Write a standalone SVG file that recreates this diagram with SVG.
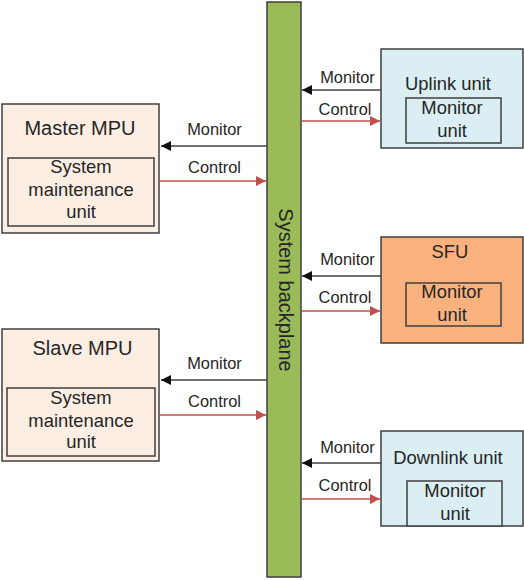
<svg xmlns="http://www.w3.org/2000/svg" width="524" height="580" viewBox="0 0 524 580">
<style>
.box{stroke:#3f3f3f;stroke-width:1.5}
.mpu{fill:#fdeee4}
.blue{fill:#daeef3}
.sfu{fill:#f9b27d}
.t{font-family:"Liberation Sans",Arial,sans-serif;font-size:18.4px;fill:#262626;text-anchor:middle}
.h{font-size:20px}
.l{font-family:"Liberation Sans",Arial,sans-serif;font-size:16.4px;fill:#262626;text-anchor:middle}
.mon{stroke:#404040;stroke-width:1.5;fill:none;marker-end:url(#ab)}
.ctl{stroke:#c0504d;stroke-width:1.5;fill:none;marker-end:url(#ar)}
</style>
<defs>
<marker id="ab" viewBox="0 0 10 10" refX="10" refY="5" markerWidth="10" markerHeight="10" markerUnits="userSpaceOnUse" orient="auto"><path d="M0,0 L10,5 L0,10 z" fill="#111"/></marker>
<marker id="ar" viewBox="0 0 10 10" refX="10" refY="5" markerWidth="10" markerHeight="10" markerUnits="userSpaceOnUse" orient="auto"><path d="M0,0 L10,5 L0,10 z" fill="#c0504d"/></marker>
</defs>
<rect width="524" height="580" fill="#fff"/>
<g id="backplane">
<rect x="267" y="2" width="34" height="575" fill="#9bbb59" class="box"/>
<text class="t h" transform="translate(278.5,290) rotate(90)">System backplane</text>
</g>
<g id="master-mpu">
<rect x="2" y="104" width="157" height="129" class="box mpu"/>
<text class="t h" x="80" y="135">Master MPU</text>
<rect x="8" y="158" width="146" height="68" class="box mpu"/>
<text class="t" x="81" y="173">System</text>
<text class="t" x="81" y="196">maintenance</text>
<text class="t" x="81" y="218">unit</text>
</g>
<g id="slave-mpu">
<rect x="2" y="329" width="157" height="132" class="box mpu"/>
<text class="t h" x="82.5" y="355">Slave MPU</text>
<rect x="7" y="388" width="148" height="68" class="box mpu"/>
<text class="t" x="81" y="404">System</text>
<text class="t" x="81" y="427">maintenance</text>
<text class="t" x="81" y="448">unit</text>
</g>
<g id="uplink">
<rect x="381" y="49" width="142" height="99" class="box blue"/>
<text class="t" x="448" y="90">Uplink unit</text>
<rect x="406" y="98" width="95" height="45" class="box blue"/>
<text class="t" x="452" y="114">Monitor</text>
<text class="t" x="452" y="137">unit</text>
</g>
<g id="sfu">
<rect x="381" y="237" width="142" height="106" class="box sfu"/>
<text class="t" x="450" y="258">SFU</text>
<rect x="406" y="283" width="95" height="43" class="box sfu"/>
<text class="t" x="452" y="298">Monitor</text>
<text class="t" x="452" y="321">unit</text>
</g>
<g id="downlink">
<rect x="381" y="431" width="142" height="95" class="box blue"/>
<text class="t" x="448" y="464">Downlink unit</text>
<rect x="407" y="481" width="95" height="45" class="box blue"/>
<text class="t" x="455" y="497">Monitor</text>
<text class="t" x="455" y="520">unit</text>
</g>
<g id="connectors">
<path class="mon" d="M267,146 H161"/>
<path class="ctl" d="M160,181 H266"/>
<path class="mon" d="M267,380 H161"/>
<path class="ctl" d="M160,415 H266"/>
<path class="mon" d="M381,90 H302"/>
<path class="ctl" d="M302,121 H380"/>
<path class="mon" d="M381,276 H302"/>
<path class="ctl" d="M302,311 H380"/>
<path class="mon" d="M381,463 H302"/>
<path class="ctl" d="M302,499 H380"/>
<text class="l" x="214.5" y="135">Monitor</text>
<text class="l" x="214.5" y="173">Control</text>
<text class="l" x="214.5" y="369">Monitor</text>
<text class="l" x="214.5" y="407">Control</text>
<text class="l" x="347.5" y="83">Monitor</text>
<text class="l" x="345" y="115">Control</text>
<text class="l" x="347.5" y="265">Monitor</text>
<text class="l" x="345" y="303">Control</text>
<text class="l" x="347.5" y="453">Monitor</text>
<text class="l" x="345" y="491">Control</text>
</g>
</svg>
